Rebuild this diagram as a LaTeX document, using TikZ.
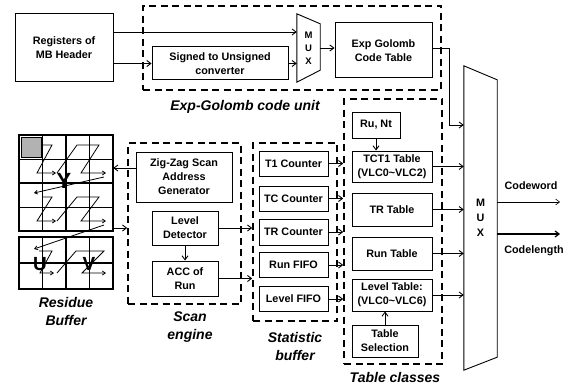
\documentclass[tikz,border=0pt]{standalone}
\usepackage{fontspec}
\setmainfont{Liberation Sans}
\usetikzlibrary{arrows.meta,calc}
\begin{document}
\begin{tikzpicture}[x=1pt,y=-1pt,
  blk/.style={draw, line width=1pt, align=center, inner sep=0pt, font=\fontsize{10.8}{14}\selectfont\bfseries},
  dbox/.style={draw, line width=1.6pt, dash pattern=on 7pt off 4.5pt, inner sep=0pt},
  lbl/.style={font=\fontsize{14}{18}\selectfont\bfseries\itshape, align=center},
  txt/.style={font=\fontsize{10.8}{14}\selectfont\bfseries, align=center},
  arr/.style={line width=0.9pt, -{Straight Barb[length=4pt,width=6pt]}},
  ln/.style={line width=0.9pt},
  grd/.style={line width=1.3pt},
  thn/.style={line width=0.5pt},
  zza/.style={line width=0.8pt, -{Straight Barb[length=3pt,width=4pt]}}
]
\path[use as bounding box] (0,0) rectangle (572,385);

% ---------- dashed groups ----------
\node[dbox, minimum width=298pt, minimum height=84pt] (egu) at (292,48) {};
\node[dbox, minimum width=113pt, minimum height=161pt] (scan) at (184.5,223.5) {};
\node[dbox, minimum width=84pt, minimum height=178pt] (stat) at (295,232) {};
\node[dbox, minimum width=98pt, minimum height=265pt] (tab) at (393,231.5) {};

% ---------- Exp-Golomb part ----------
\node[blk, minimum width=98pt, minimum height=68pt] (mb) at (64,48) {Registers of\\MB Header};
\node[blk, minimum width=136pt, minimum height=33pt] (conv) at (220,63.5) {Signed to Unsigned\\converter};
\node[blk, minimum width=97pt, minimum height=55pt] (egct) at (383.5,50.5) {Exp Golomb\\Code Table};
\node[txt, minimum width=23pt, minimum height=68pt, inner sep=0pt, font=\fontsize{9.5}{13}\selectfont\bfseries] (mux1) at (308.5,48) {M\\U\\X};
\draw[ln] (mux1.north west) -- ($(mux1.north east)+(0,10)$) -- ($(mux1.south east)+(0,-12)$) -- (mux1.south west) -- cycle;

\draw[arr] ([yshift=16pt]mb.east) -- ([yshift=16pt]mux1.west);
\draw[arr] (mb.east |- conv.west) -- (conv.west);
\draw[arr] (conv.east) -- (mux1.west |- conv.east);
\draw[arr] (mux1.east) -- (egct.west |- mux1.east);

% ---------- big MUX ----------
\node[txt, minimum width=33pt, minimum height=304pt, inner sep=0pt, font=\fontsize{10.8}{15}\selectfont\bfseries] (bmux) at (480.5,218) {M\\U\\X};
\draw[ln] (bmux.north west) -- ($(bmux.north east)+(0,14)$) -- ($(bmux.south east)+(0,-13)$) -- (bmux.south west) -- cycle;

\coordinate (c1) at (449,125);
\draw[arr] ([yshift=2pt]egct.east) -| (c1) -- (bmux.west |- c1);

\coordinate (cw) at (560,202);
\coordinate (cl) at (560,234);
\draw[line width=0.6pt, -{Straight Barb[length=4pt,width=6pt]}] (bmux.east |- cw) -- (cw);
\draw[line width=1.2pt, -{Straight Barb[length=4pt,width=6pt]}] (bmux.east |- cl) -- (cl);
\node[txt] at (531,186) {Codeword};
\node[txt] at (534,251) {Codelength};

% ---------- Table classes ----------
\node[blk, minimum width=48pt, minimum height=26pt] (runt) at (376,125) {Ru, Nt};
\node[blk, minimum width=80pt, minimum height=31pt] (tct1) at (392,166.5) {TCT1 Table\\(VLC0\textasciitilde VLC2)};
\node[blk, minimum width=80pt, minimum height=33pt] (trt) at (392,209.5) {TR Table};
\node[blk, minimum width=80pt, minimum height=33pt] (runtab) at (392,253.5) {Run Table};
\node[blk, minimum width=80pt, minimum height=32pt] (lvtab) at (392,295) {Level Table:\\(VLC0\textasciitilde VLC6)};
\node[blk, minimum width=66pt, minimum height=32pt] (tsel) at (385,341) {Table\\Selection};
\draw[arr] (runt.south) -- (runt.south |- tct1.north);
\draw[arr] (tsel.north) -- (tsel.north |- lvtab.south);
\draw[arr] (tct1.east) -- (bmux.west |- tct1.east);
\draw[arr] (trt.east) -- (bmux.west |- trt.east);
\draw[arr] (runtab.east) -- (bmux.west |- runtab.east);
\draw[arr] (lvtab.east) -- (bmux.west |- lvtab.east);

% ---------- Statistic buffer ----------
\node[blk, minimum width=69pt, minimum height=25pt] (t1) at (293.5,163.5) {T1 Counter};
\node[blk, minimum width=69pt, minimum height=25pt] (tc) at (293.5,198.5) {TC Counter};
\node[blk, minimum width=69pt, minimum height=26pt] (tr) at (293.5,232) {TR Counter};
\node[blk, minimum width=69pt, minimum height=25pt] (runf) at (293.5,265) {Run FIFO};
\node[blk, minimum width=69pt, minimum height=25pt] (lvf) at (293.5,299) {Level FIFO};
\foreach \n in {t1,tc,tr,runf,lvf}{\draw[arr] (\n.east) -- (tab.west |- \n.east);}

% ---------- Scan engine ----------
\node[blk, minimum width=96pt, minimum height=50pt] (zz) at (184,177) {Zig-Zag Scan\\Address\\Generator};
\node[blk, minimum width=66pt, minimum height=34pt] (ld) at (185,228) {Level\\Detector};
\node[blk, minimum width=66pt, minimum height=35pt] (acc) at (185,278.5) {ACC of\\Run};
\draw[arr] (ld.south) -- (acc.north);
\draw[arr] (ld.east) -- (stat.west |- ld.east);
\draw[arr] (acc.east) -- (stat.west |- acc.east);

% ---------- Residue buffer ----------
\node[minimum width=94pt, minimum height=96pt, inner sep=0pt] (rb) at (66,183) {};
\fill[gray!60] (21,137) rectangle (41,157);
\draw[line width=1pt] (21,137) rectangle (41,157);
\draw[thn] (42.5,135) -- (42.5,231) (89.5,135) -- (89.5,231) (19,159) -- (113,159) (19,207) -- (113,207);
\draw[thn] (42.5,237) -- (42.5,289) (89.5,237) -- (89.5,289);
\draw[grd] (19,135) rectangle (113,231) (66,135) -- (66,231) (19,183) -- (113,183);
\draw[grd] (19,237) rectangle (113,289) (66,237) -- (66,289) (19,263) -- (113,263);
\node[font=\fontsize{22}{22}\selectfont\bfseries, inner sep=0pt] at (64,181) {Y};
\node[font=\fontsize{19}{19}\selectfont\bfseries, inner sep=0pt] at (40,264) {U};
\node[font=\fontsize{19}{19}\selectfont\bfseries, inner sep=0pt] at (89,264) {V};
\draw[zza] (42,145) -- (52,145) -- (37,173) -- (56,173);
\draw[zza] (57,173) -- (77,145) -- (99,145) -- (81,173) -- (106,173);
\draw[zza] (104,177) -- (34,193);
\draw[zza] (42,197) -- (52,197) -- (37,221) -- (56,221);
\draw[zza] (57,221) -- (77,197) -- (99,197) -- (81,221) -- (106,221);
\draw[zza] (104,225) -- (34,249);
\draw[zza] (39,251) -- (52,251) -- (40,273) -- (54,273);
\draw[zza] (57,273) -- (76,251) -- (104,251) -- (82,273) -- (106,273);

\coordinate (zzo) at ([yshift=9pt]zz.west);
\draw[arr] (zzo) -- (rb.east |- zzo);
\draw[arr] (rb.east |- ld.west) -- (scan.west |- ld.west);

% ---------- labels ----------
\node[lbl] at (245,107) {Exp-Golomb code unit};
\node[lbl] at (66,311) {Residue\\Buffer};
\node[lbl] at (190,327) {Scan\\engine};
\node[lbl] at (295,346) {Statistic\\buffer};
\node[lbl] at (395,377) {Table classes};
\end{tikzpicture}
\end{document}
